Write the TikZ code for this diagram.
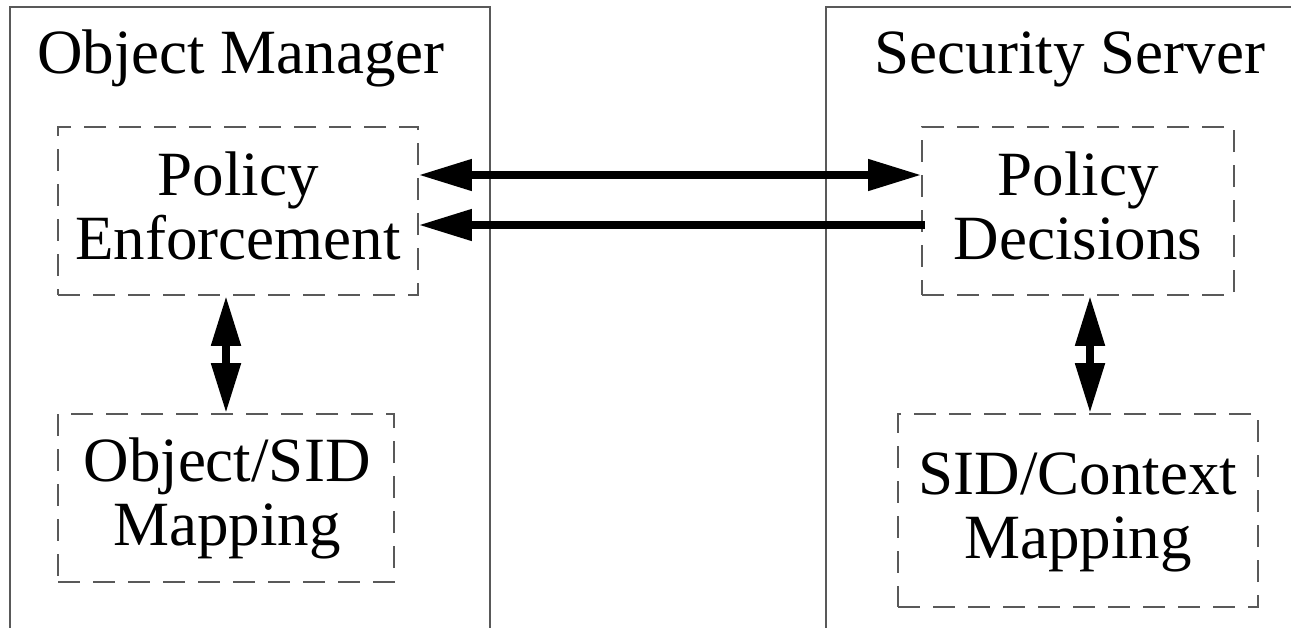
\documentclass[tikz,border=0pt]{standalone}
\usepackage{fontspec}
\setmainfont{Liberation Serif}
\usetikzlibrary{arrows.meta}
\begin{document}
\begin{tikzpicture}[x=1pt,y=1pt,
  frame/.style={draw=black!65, line width=1.6pt},
  part/.style={draw=black!65, line width=1.6pt, dash pattern=on 22pt off 13pt,
               inner sep=0pt},
  txt/.style={font=\fontsize{63}{64}\selectfont, align=center, inner sep=0pt},
  hboth/.style={line width=7.5pt,
    {Triangle[length=53pt,width=30pt]}-{Triangle[length=53pt,width=30pt]}},
  hone/.style={line width=7.5pt, -{Triangle[length=53pt,width=30pt]}},
  vboth/.style={line width=8pt,
    {Triangle[length=50pt,width=28pt]}-{Triangle[length=50pt,width=28pt]}}
]
\useasboundingbox (0,0) rectangle (1291,-627);

% open frames of the two components
\draw[frame] (10,-640) -- (10,-7) -- (490,-7) -- (490,-640);
\draw[frame] (826,-640) -- (826,-7) -- (1300,-7);
\node[txt, anchor=base] (omtitle) at (241,-73) {Object Manager};
\node[txt, anchor=base] (sstitle) at (1070,-73) {Security Server};

% dashed sub-components
\node[part, minimum width=360pt, minimum height=168pt] (pe) at (238,-211) {};
\node[part, minimum width=312pt, minimum height=168pt] (pd) at (1078,-211) {};
\node[part, minimum width=336pt, minimum height=168pt] (os) at (226,-498) {};
\node[part, minimum width=360pt, minimum height=193pt] (sc) at (1078,-510.5) {};

\node[txt] (petext) at (238,-206) {Policy\\Enforcement};
\node[txt] (pdtext) at (1078,-206) {Policy\\Decisions};
\node[txt] (ostext) at (227,-498) {Object/SID\\Mapping};
\node[txt] (sctext) at (1078,-512) {SID/Context\\Mapping};

% requests and replies between the components
\draw[hboth] ([yshift=36pt]pe.east) -- ([yshift=36pt]pd.west);
\draw[hone, shorten <=-4pt] ([yshift=-14pt]pd.west) -- ([yshift=-14pt]pe.east);

% lookups inside each component
\draw[vboth] (os.north |- pe.south) -- (os.north);
\draw[vboth] ([xshift=12pt]pd.south) -- ([xshift=12pt]sc.north);
\end{tikzpicture}
\end{document}
